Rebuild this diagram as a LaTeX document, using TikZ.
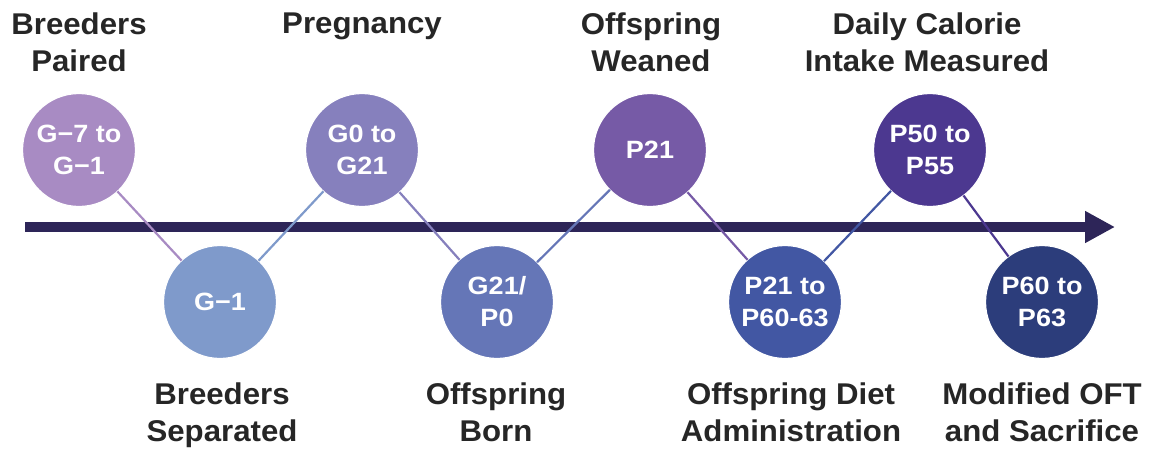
\documentclass[tikz,border=0pt]{standalone}
\usepackage{fontspec}
\setmainfont{Liberation Sans}[FakeStretch=1.04]
\newfontfamily\dotfont{Liberation Sans}[FakeStretch=1.08]
\usetikzlibrary{arrows.meta}
\definecolor{cA}{HTML}{A88BC3}
\definecolor{cB}{HTML}{7F9ACB}
\definecolor{cC}{HTML}{8680BD}
\definecolor{cD}{HTML}{6576B7}
\definecolor{cE}{HTML}{765AA6}
\definecolor{cF}{HTML}{4257A3}
\definecolor{cG}{HTML}{4C3890}
\definecolor{cH}{HTML}{2C3D7B}
\definecolor{axisc}{HTML}{2D2558}
\definecolor{labelc}{HTML}{262626}
\tikzset{
  dot/.style={circle, minimum size=113pt, inner sep=0pt, outer sep=0pt,
    draw=white, line width=1.2pt, fill=#1, text=white,
    font=\dotfont\bfseries\fontsize{25}{32}\selectfont, align=center},
  lbl/.style={font=\bfseries\fontsize{30}{37}\selectfont, text=labelc,
    align=center, inner sep=0pt, anchor=north},
  link/.style={draw=#1, line width=2.2pt},
  timeline/.style={draw=axisc, line width=10pt,
    -{Triangle[length=30pt,width=30pt]}}
}
\begin{document}
\begin{tikzpicture}[x=1pt,y=-1pt]
\useasboundingbox (0,0) rectangle (1155,450);
\coordinate (tstart) at (25,227);
\coordinate (tend) at (1115,227);
\draw[timeline] (tstart) -- (tend);

\node[dot=cA] (c1) at (79,150) {G−7 to\\G−1};
\node[dot=cB] (c2) at (220,302) {G−1};
\node[dot=cC] (c3) at (362,150) {G0 to\\G21};
\node[dot=cD] (c4) at (497,302) {G21/\\P0};
\node[dot=cE] (c5) at (650,150) {P21};
\node[dot=cF] (c6) at (785,302) {P21 to\\P60-63};
\node[dot=cG] (c7) at (930,150) {P50 to\\P55};
\node[dot=cH] (c8) at (1042,302) {P60 to\\P63};

\draw[link=cA] (c1) -- (c2);
\draw[link=cB] (c2) -- (c3);
\draw[link=cC] (c3) -- (c4);
\draw[link=cD] (c4) -- (c5);
\draw[link=cE] (c5) -- (c6);
\draw[link=cF] (c6) -- (c7);
\draw[link=cG] (c7) -- (c8);

\node[lbl] (l1) at (79,13) {Breeders\\Paired};
\node[lbl] (l3) at (362,13) {Pregnancy};
\node[lbl] (l5) at (651,13) {Offspring\\Weaned};
\node[lbl] (l7) at (927,13) {Daily Calorie\\Intake Measured};
\node[lbl] (l2) at (222,383) {Breeders\\Separated};
\node[lbl] (l4) at (496,383) {Offspring\\Born};
\node[lbl] (l6) at (791,383) {Offspring Diet\\Administration};
\node[lbl] (l8) at (1042,383) {Modified OFT\\and Sacrifice};
\end{tikzpicture}
\end{document}
